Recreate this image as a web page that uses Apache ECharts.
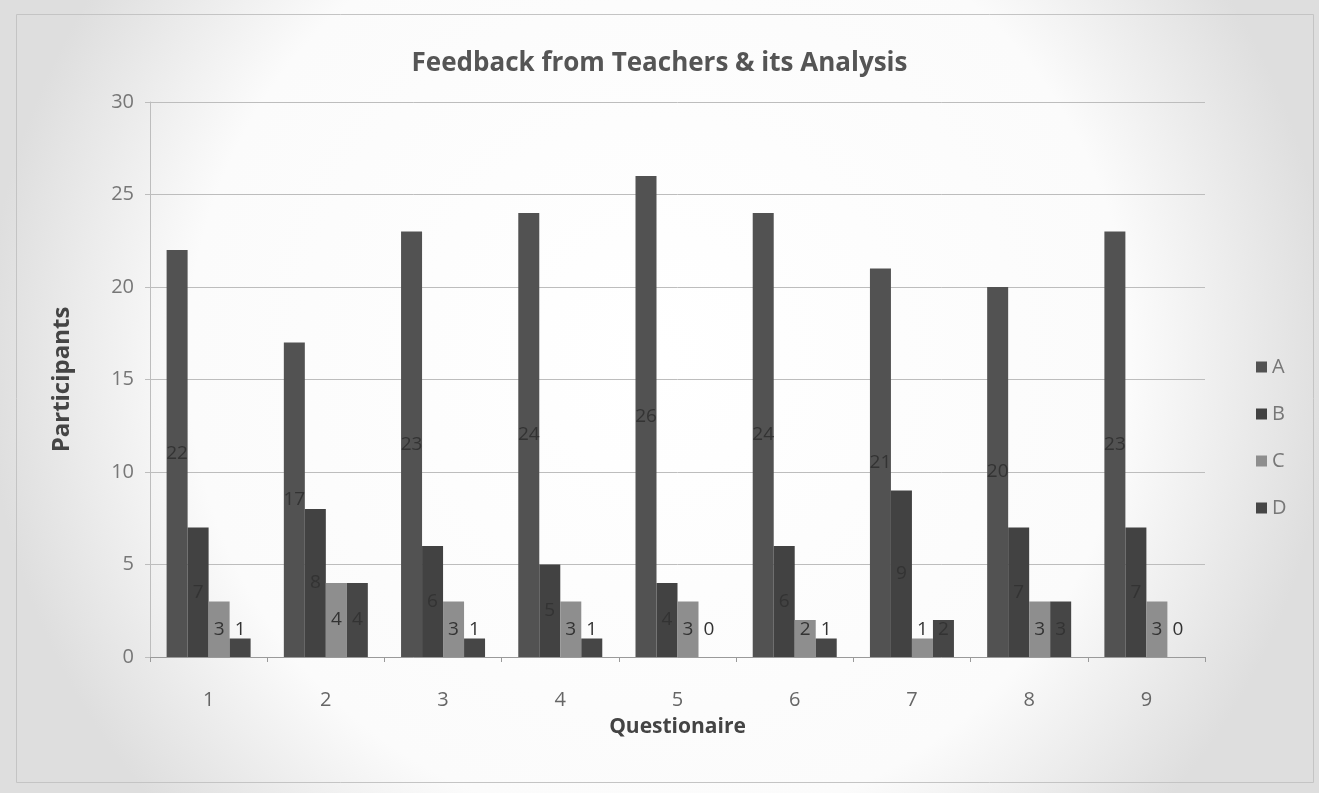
<!DOCTYPE html>
<html>
<head>
<meta charset="utf-8">
<title>Feedback from Teachers & its Analysis</title>
<script src="https://cdn.jsdelivr.net/npm/echarts@6/dist/echarts.min.js"></script>
<style>
    html, body { margin: 0; padding: 0; background: #f4f4f4; }
    #chart { width: 1319px; height: 793px; }
</style>
</head>
<body>
<div id="chart"></div>
<script>
var questions = ['1', '2', '3', '4', '5', '6', '7', '8', '9'];
var seriesA = [22, 17, 23, 24, 26, 24, 21, 20, 23];
var seriesB = [7, 8, 6, 5, 4, 6, 9, 7, 7];
var seriesC = [3, 4, 3, 3, 3, 2, 1, 3, 3];
var seriesD = [1, 4, 1, 1, 0, 1, 2, 3, 0];
var yTicks = [0, 5, 10, 15, 20, 25, 30];

var myChart = echarts.init(document.getElementById('chart'));

// short bars: Excel lifts the label so it stays readable
function withLabels(values) {
    var out = [];
    for (var i = 0; i < values.length; i++) {
        var v = values[i];
        if (v < 3) {
            out.push({value: v, label: {position: 'insideBottom', distance: 18}});
        } else {
            out.push(v);
        }
    }
    return out;
}

function makeSeries(name, values, color) {
    return {
        name: name,
        type: 'bar',
        data: withLabels(values),
        barWidth: 21,
        barGap: '0%',
        itemStyle: {color: color},
        label: {
            show: true,
            position: 'inside',
            color: '#333',
            fontSize: 19,
            fontFamily: 'Open Sans'
        }
    };
}

myChart.setOption({
    backgroundColor: {
        type: 'radial', x: 0.5, y: 0.45, r: 0.85,
        colorStops: [
            {offset: 0, color: '#ffffff'},
            {offset: 0.7, color: '#fbfbfb'},
            {offset: 1, color: '#dedede'}
        ]
    },
    graphic: [{
        type: 'rect',
        left: 14, top: 12,
        shape: {width: 1297, height: 768},
        style: {fill: 'none', stroke: '#c4c4c4', lineWidth: 1}
    }],
    title: {
        text: 'Feedback from Teachers & its Analysis',
        left: 'center',
        top: 46,
        textStyle: {
            fontFamily: 'Open Sans',
            fontSize: 26,
            fontWeight: 'bold',
            color: '#555'
        }
    },
    legend: {
        orient: 'vertical',
        left: 1251,
        top: 352,
        itemWidth: 11,
        itemHeight: 11,
        itemGap: 27,
        icon: 'rect',
        textStyle: {fontFamily: 'Open Sans', fontSize: 20, color: '#777'},
        data: ['A', 'B', 'C', 'D']
    },
    grid: {
        left: 150,
        right: 114,
        top: 102,
        bottom: 136
    },
    xAxis: {
        type: 'category',
        data: questions,
        name: 'Questionaire',
        nameLocation: 'middle',
        nameGap: 60,
        nameTextStyle: {fontFamily: 'Open Sans', fontSize: 21, fontWeight: 'bold', color: '#444'},
        axisLine: {lineStyle: {color: '#9a9a9a'}},
        axisTick: {show: true, length: 5, lineStyle: {color: '#9a9a9a'}},
        axisLabel: {fontFamily: 'Open Sans', fontSize: 20, color: '#666', margin: 33}
    },
    yAxis: {
        type: 'value',
        min: yTicks[0],
        max: yTicks[yTicks.length - 1],
        interval: 5,
        name: 'Participants',
        nameLocation: 'middle',
        nameGap: 76,
        nameTextStyle: {fontFamily: 'Open Sans', fontSize: 24, fontWeight: 'bold', color: '#444'},
        axisLine: {show: true, lineStyle: {color: '#bdbdbd'}},
        axisTick: {show: true, inside: false, length: 5, lineStyle: {color: '#bdbdbd'}},
        axisLabel: {fontFamily: 'Open Sans', fontSize: 20, color: '#777', margin: 16},
        splitLine: {lineStyle: {color: '#bdbdbd'}}
    },
    series: [
        makeSeries('A', seriesA, '#525252'),
        makeSeries('B', seriesB, '#424242'),
        makeSeries('C', seriesC, '#8e8e8e'),
        makeSeries('D', seriesD, '#464646')
    ]
});
</script>
</body>
</html>
